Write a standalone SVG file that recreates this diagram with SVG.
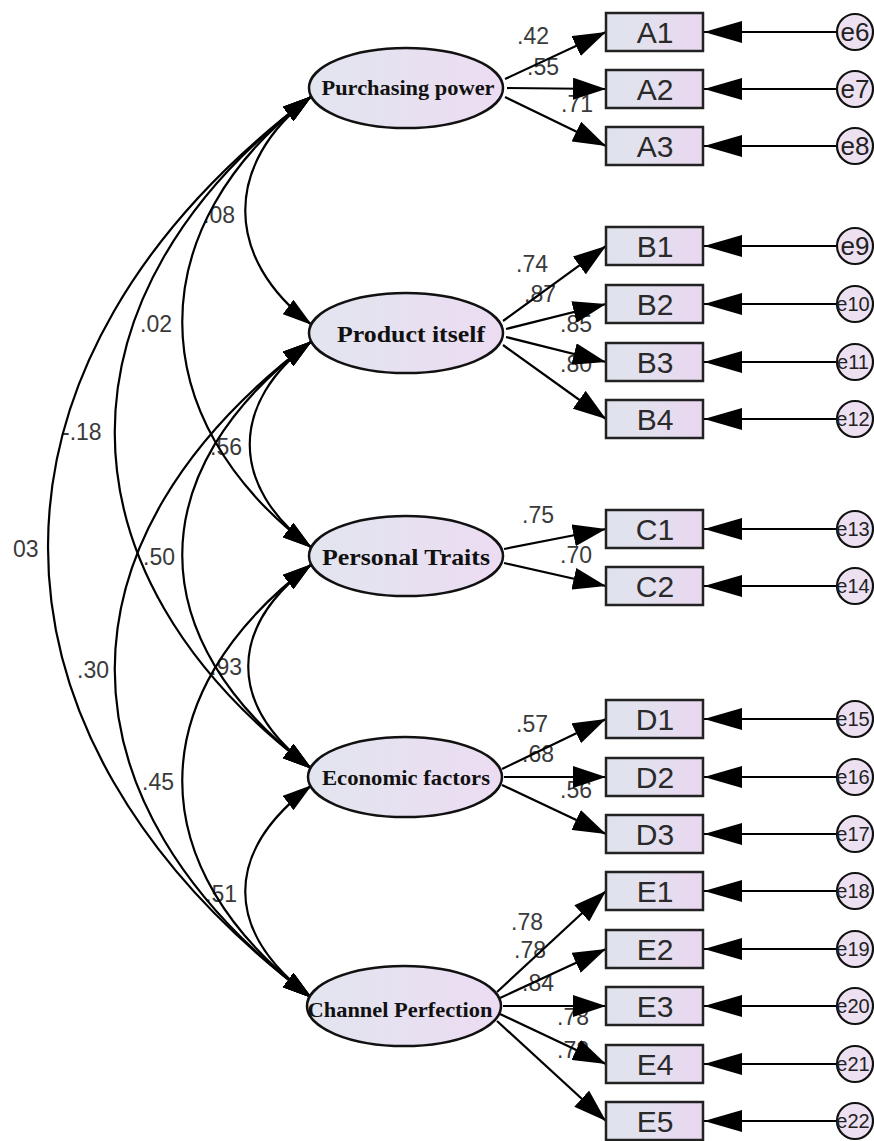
<svg xmlns="http://www.w3.org/2000/svg" width="874" height="1141" viewBox="0 0 874 1141">
<defs>
<linearGradient id="gE" x1="0" y1="0" x2="1" y2="0"><stop offset="0" stop-color="#e2e5ef"/><stop offset="1" stop-color="#ecdcf2"/></linearGradient>
<linearGradient id="gB" x1="0" y1="0" x2="1" y2="0"><stop offset="0" stop-color="#dfe2ec"/><stop offset="0.35" stop-color="#e2e2ee"/><stop offset="1" stop-color="#ead6f0"/></linearGradient>
<marker id="mL" markerUnits="userSpaceOnUse" viewBox="0 0 33 22" markerWidth="33" markerHeight="22" refX="33" refY="11" orient="auto"><path d="M0,0 L33,11 L0,22 Z" fill="#000"/></marker>
<marker id="mErr" markerUnits="userSpaceOnUse" viewBox="0 0 38 22" markerWidth="38" markerHeight="22" refX="38" refY="11" orient="auto"><path d="M0,0 L38,11 L0,22 Z" fill="#000"/></marker>
<marker id="mC" markerUnits="userSpaceOnUse" viewBox="0 0 30 18" markerWidth="30" markerHeight="18" refX="30" refY="9" orient="auto-start-reverse"><path d="M0,0 L30,9 L0,18 Z" fill="#000"/></marker>
</defs>
<style>
.lab{font-family:"Liberation Sans",Arial,sans-serif;font-size:23px;fill:#3a3a3a}
.lat{fill:url(#gE);stroke:#111;stroke-width:2.5}
.latt{font-family:"Liberation Serif","Times New Roman",serif;font-weight:bold;fill:#111;text-anchor:middle}
.obs{fill:url(#gB);stroke:#222;stroke-width:2.5}
.obst{font-family:"Liberation Sans",Arial,sans-serif;font-size:30px;fill:#2a2a2a;text-anchor:middle}
.err{fill:#ece0f1;stroke:#111;stroke-width:2.2}
.errt{font-family:"Liberation Sans",Arial,sans-serif;font-size:26px;fill:#222;text-anchor:middle}
.errt2{font-family:"Liberation Sans",Arial,sans-serif;font-size:20px;fill:#222;text-anchor:middle}
.ld{fill:none;stroke:#000;stroke-width:2.2;marker-end:url(#mL)}
.el{fill:none;stroke:#000;stroke-width:2.2;marker-end:url(#mErr)}
.cv{fill:none;stroke:#000;stroke-width:2.2;marker-start:url(#mC);marker-end:url(#mC)}
</style>
<rect width="874" height="1141" fill="#fff"/>
<g id="labels">
<text class="lab" x="517" y="44">.42</text>
<text class="lab" x="527" y="75">.55</text>
<text class="lab" x="561" y="112">.71</text>
<text class="lab" x="516" y="272">.74</text>
<text class="lab" x="524" y="302">.87</text>
<text class="lab" x="560" y="332">.85</text>
<text class="lab" x="560" y="372">.80</text>
<text class="lab" x="522" y="523">.75</text>
<text class="lab" x="560" y="563">.70</text>
<text class="lab" x="516" y="732">.57</text>
<text class="lab" x="522" y="762">.68</text>
<text class="lab" x="560" y="798">.56</text>
<text class="lab" x="511" y="930">.78</text>
<text class="lab" x="514" y="958">.78</text>
<text class="lab" x="522" y="991">.84</text>
<text class="lab" x="557" y="1025">.78</text>
<text class="lab" x="557" y="1058">.78</text>
<text class="lab" x="203" y="223">.08</text>
<text class="lab" x="140" y="332">.02</text>
<text class="lab" x="62" y="440">-.18</text>
<text class="lab" x="13" y="557">03</text>
<text class="lab" x="210" y="455">.56</text>
<text class="lab" x="143" y="565">.50</text>
<text class="lab" x="77" y="678">.30</text>
<text class="lab" x="210" y="675">.93</text>
<text class="lab" x="142" y="790">.45</text>
<text class="lab" x="205" y="902">.51</text>
</g>
<g id="connectors">
<path class="cv" d="M312,96 C223,163 223,258 312,325"/>
<path class="cv" d="M312,96 C139,226 139,418 312,548"/>
<path class="cv" d="M312,96 C49,293 49,572 312,769"/>
<path class="cv" d="M312,96 C-40,360 -40,734 312,998"/>
<path class="cv" d="M312,341 C229,403 229,486 312,548"/>
<path class="cv" d="M312,341 C139,471 139,639 312,769"/>
<path class="cv" d="M312,341 C49,538 49,801 312,998"/>
<path class="cv" d="M312,564 C227,628 227,705 312,769"/>
<path class="cv" d="M312,564 C139,694 139,868 312,998"/>
<path class="cv" d="M312,785 C223,852 223,931 312,998"/>
<line class="ld" x1="505" y1="79" x2="606" y2="32"/>
<line class="ld" x1="507" y1="88" x2="606" y2="89"/>
<line class="ld" x1="505" y1="97" x2="606" y2="146"/>
<line class="ld" x1="503" y1="321" x2="606" y2="246"/>
<line class="ld" x1="506" y1="329" x2="606" y2="304"/>
<line class="ld" x1="506" y1="337" x2="606" y2="362"/>
<line class="ld" x1="503" y1="345" x2="606" y2="419"/>
<line class="ld" x1="504" y1="549" x2="606" y2="529"/>
<line class="ld" x1="504" y1="563" x2="606" y2="586"/>
<line class="ld" x1="502" y1="769" x2="606" y2="719"/>
<line class="ld" x1="504" y1="777" x2="606" y2="777"/>
<line class="ld" x1="502" y1="785" x2="606" y2="834"/>
<line class="ld" x1="497" y1="992" x2="606" y2="891"/>
<line class="ld" x1="500" y1="998" x2="606" y2="949"/>
<line class="ld" x1="503" y1="1006" x2="606" y2="1006"/>
<line class="ld" x1="500" y1="1014" x2="606" y2="1064"/>
<line class="ld" x1="497" y1="1021" x2="606" y2="1121"/>
<line class="el" x1="837" y1="32" x2="704" y2="32"/>
<line class="el" x1="837" y1="89" x2="704" y2="89"/>
<line class="el" x1="837" y1="146" x2="704" y2="146"/>
<line class="el" x1="837" y1="246" x2="704" y2="246"/>
<line class="el" x1="837" y1="304" x2="704" y2="304"/>
<line class="el" x1="837" y1="362" x2="704" y2="362"/>
<line class="el" x1="837" y1="419" x2="704" y2="419"/>
<line class="el" x1="837" y1="529" x2="704" y2="529"/>
<line class="el" x1="837" y1="586" x2="704" y2="586"/>
<line class="el" x1="837" y1="719" x2="704" y2="719"/>
<line class="el" x1="837" y1="777" x2="704" y2="777"/>
<line class="el" x1="837" y1="834" x2="704" y2="834"/>
<line class="el" x1="837" y1="891" x2="704" y2="891"/>
<line class="el" x1="837" y1="949" x2="704" y2="949"/>
<line class="el" x1="837" y1="1006" x2="704" y2="1006"/>
<line class="el" x1="837" y1="1064" x2="704" y2="1064"/>
<line class="el" x1="837" y1="1121" x2="704" y2="1121"/>
</g>
<g id="PP"><ellipse class="lat" cx="406" cy="88" rx="97" ry="40"/><text class="latt" x="408" y="95" font-size="22" textLength="173" lengthAdjust="spacingAndGlyphs">Purchasing power</text></g>
<g id="PI"><ellipse class="lat" cx="406" cy="333" rx="97" ry="40"/><text class="latt" x="411" y="342" font-size="24" textLength="148" lengthAdjust="spacingAndGlyphs">Product itself</text></g>
<g id="PT"><ellipse class="lat" cx="406" cy="556" rx="97" ry="40"/><text class="latt" x="406" y="565" font-size="24" textLength="168" lengthAdjust="spacingAndGlyphs">Personal Traits</text></g>
<g id="EF"><ellipse class="lat" cx="405" cy="777" rx="97" ry="40"/><text class="latt" x="406" y="785" font-size="22" textLength="168" lengthAdjust="spacingAndGlyphs">Economic factors</text></g>
<g id="CP"><ellipse class="lat" cx="404" cy="1006" rx="97" ry="40"/><text class="latt" x="400" y="1017" font-size="22" textLength="185" lengthAdjust="spacingAndGlyphs">Channel Perfection</text></g>
<g id="A1"><rect class="obs" x="606" y="13" width="97" height="38"/><text class="obst" x="655" y="43">A1</text></g>
<g id="A2"><rect class="obs" x="606" y="70" width="97" height="38"/><text class="obst" x="655" y="100">A2</text></g>
<g id="A3"><rect class="obs" x="606" y="127" width="97" height="38"/><text class="obst" x="655" y="157">A3</text></g>
<g id="B1"><rect class="obs" x="606" y="227" width="97" height="38"/><text class="obst" x="655" y="257">B1</text></g>
<g id="B2"><rect class="obs" x="606" y="285" width="97" height="38"/><text class="obst" x="655" y="315">B2</text></g>
<g id="B3"><rect class="obs" x="606" y="343" width="97" height="38"/><text class="obst" x="655" y="373">B3</text></g>
<g id="B4"><rect class="obs" x="606" y="400" width="97" height="38"/><text class="obst" x="655" y="430">B4</text></g>
<g id="C1"><rect class="obs" x="606" y="510" width="97" height="38"/><text class="obst" x="655" y="540">C1</text></g>
<g id="C2"><rect class="obs" x="606" y="567" width="97" height="38"/><text class="obst" x="655" y="597">C2</text></g>
<g id="D1"><rect class="obs" x="606" y="700" width="97" height="38"/><text class="obst" x="655" y="730">D1</text></g>
<g id="D2"><rect class="obs" x="606" y="758" width="97" height="38"/><text class="obst" x="655" y="788">D2</text></g>
<g id="D3"><rect class="obs" x="606" y="815" width="97" height="38"/><text class="obst" x="655" y="845">D3</text></g>
<g id="E1"><rect class="obs" x="606" y="872" width="97" height="38"/><text class="obst" x="655" y="902">E1</text></g>
<g id="E2"><rect class="obs" x="606" y="930" width="97" height="38"/><text class="obst" x="655" y="960">E2</text></g>
<g id="E3"><rect class="obs" x="606" y="987" width="97" height="38"/><text class="obst" x="655" y="1017">E3</text></g>
<g id="E4"><rect class="obs" x="606" y="1045" width="97" height="38"/><text class="obst" x="655" y="1075">E4</text></g>
<g id="E5"><rect class="obs" x="606" y="1102" width="97" height="38"/><text class="obst" x="655" y="1132">E5</text></g>
<g id="e6"><circle class="err" cx="855" cy="32" r="18"/><text class="errt" x="855" y="41">e6</text></g>
<g id="e7"><circle class="err" cx="855" cy="89" r="18"/><text class="errt" x="855" y="98">e7</text></g>
<g id="e8"><circle class="err" cx="855" cy="146" r="18"/><text class="errt" x="855" y="155">e8</text></g>
<g id="e9"><circle class="err" cx="855" cy="246" r="18"/><text class="errt" x="855" y="255">e9</text></g>
<g id="e10"><circle class="err" cx="855" cy="304" r="18"/><text class="errt2" x="853" y="311">e10</text></g>
<g id="e11"><circle class="err" cx="855" cy="362" r="18"/><text class="errt2" x="853" y="369">e11</text></g>
<g id="e12"><circle class="err" cx="855" cy="419" r="18"/><text class="errt2" x="853" y="426">e12</text></g>
<g id="e13"><circle class="err" cx="855" cy="529" r="18"/><text class="errt2" x="853" y="536">e13</text></g>
<g id="e14"><circle class="err" cx="855" cy="586" r="18"/><text class="errt2" x="853" y="593">e14</text></g>
<g id="e15"><circle class="err" cx="855" cy="719" r="18"/><text class="errt2" x="853" y="726">e15</text></g>
<g id="e16"><circle class="err" cx="855" cy="777" r="18"/><text class="errt2" x="853" y="784">e16</text></g>
<g id="e17"><circle class="err" cx="855" cy="834" r="18"/><text class="errt2" x="853" y="841">e17</text></g>
<g id="e18"><circle class="err" cx="855" cy="891" r="18"/><text class="errt2" x="853" y="898">e18</text></g>
<g id="e19"><circle class="err" cx="855" cy="949" r="18"/><text class="errt2" x="853" y="956">e19</text></g>
<g id="e20"><circle class="err" cx="855" cy="1006" r="18"/><text class="errt2" x="853" y="1013">e20</text></g>
<g id="e21"><circle class="err" cx="855" cy="1064" r="18"/><text class="errt2" x="853" y="1071">e21</text></g>
<g id="e22"><circle class="err" cx="855" cy="1121" r="18"/><text class="errt2" x="853" y="1128">e22</text></g>
</svg>
